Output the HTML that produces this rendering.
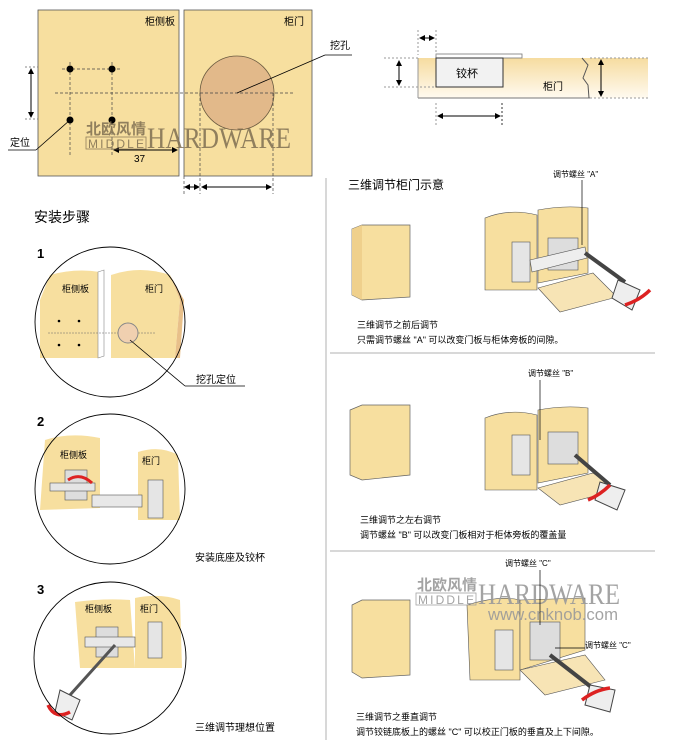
<!DOCTYPE html>
<html><head><meta charset="utf-8"><style>
body{margin:0;background:#fff;}
svg{display:block;font-family:"Liberation Sans","Noto Sans CJK SC",sans-serif;}
</style></head><body>
<svg width="680" height="751" viewBox="0 0 680 751" xmlns="http://www.w3.org/2000/svg">
<defs>
<linearGradient id="dg" x1="0" y1="0" x2="0" y2="1"><stop offset="0" stop-color="#f6dca0"/><stop offset="1" stop-color="#fffaf0"/></linearGradient>
<marker id="a" markerWidth="6" markerHeight="6" refX="5" refY="3" orient="auto"><path d="M0,0L6,3L0,6z" fill="#000"/></marker>
<marker id="b" markerWidth="6" markerHeight="6" refX="1" refY="3" orient="auto"><path d="M6,0L0,3L6,6z" fill="#000"/></marker>
</defs>
<!-- top-left panels -->
<rect x="38" y="10" width="141" height="166" fill="#f7df9f" stroke="#555" stroke-width="0.8"/>
<rect x="184" y="10" width="128" height="166" fill="#f7df9f" stroke="#555" stroke-width="0.8"/>
<text x="145" y="25" font-size="10">柜侧板</text>
<text x="284" y="25" font-size="10">柜门</text>
<circle cx="237" cy="93" r="37" fill="#e2b98a" stroke="#6a5a40" stroke-width="0.8"/>
<g stroke="#444" stroke-dasharray="3,2" stroke-width="0.7" fill="none">
<line x1="55" y1="93" x2="295" y2="93"/>
<line x1="70" y1="62" x2="70" y2="155"/><line x1="112" y1="62" x2="112" y2="155"/>
<line x1="62" y1="69" x2="120" y2="69"/>
<line x1="200" y1="93" x2="200" y2="194"/><line x1="273" y1="93" x2="273" y2="194"/>
<line x1="184" y1="176" x2="184" y2="194"/>
</g>
<g fill="#000"><circle cx="70" cy="69" r="3.5"/><circle cx="112" cy="69" r="3.5"/><circle cx="70" cy="120" r="3.5"/><circle cx="112" cy="120" r="3.5"/></g>
<line x1="31" y1="69" x2="31" y2="117" stroke="#000" marker-end="url(#a)" marker-start="url(#b)"/>
<line x1="25" y1="67" x2="38" y2="67" stroke="#888" stroke-dasharray="2,2"/><line x1="25" y1="119" x2="38" y2="119" stroke="#888" stroke-dasharray="2,2"/>
<line x1="70" y1="120" x2="36" y2="150" stroke="#000" stroke-width="0.8"/><line x1="8" y1="150" x2="36" y2="150" stroke="#000" stroke-width="0.8"/>
<text x="10" y="146" font-size="10">定位</text>
<line x1="114" y1="150" x2="177" y2="150" stroke="#000" marker-end="url(#a)" marker-start="url(#b)"/>
<text x="134" y="162" font-size="10">37</text>
<line x1="185" y1="187" x2="199" y2="187" stroke="#000" marker-end="url(#a)" marker-start="url(#b)"/>
<line x1="202" y1="187" x2="271" y2="187" stroke="#000" marker-end="url(#a)" marker-start="url(#b)"/>
<line x1="237" y1="93" x2="325" y2="55" stroke="#000" stroke-width="0.8"/><line x1="325" y1="55" x2="352" y2="55" stroke="#000" stroke-width="0.8"/>
<text x="330" y="49" font-size="10">挖孔</text>
<g fill="#7f6f52" opacity="0.85">
<text x="86" y="134" font-size="15" font-weight="bold" textLength="60">北欧风情</text>
<rect x="86" y="137" width="60" height="12" fill="none" stroke="#7f6f52" stroke-width="0.8"/>
<text x="88" y="148" font-size="12" textLength="56">MIDDLE</text>
<text x="147" y="148" font-size="30" font-family="Liberation Serif,serif" textLength="144" lengthAdjust="spacingAndGlyphs">HARDWARE</text>
</g>
<!-- top-right section -->
<rect x="418" y="58" width="230" height="40" fill="url(#dg)"/>
<line x1="418" y1="98" x2="590" y2="98" stroke="#777"/>
<line x1="418" y1="58" x2="418" y2="98" stroke="#999"/>
<rect x="436" y="54" width="86" height="4" fill="#fff" stroke="#777" stroke-width="0.8"/>
<rect x="436" y="58" width="67" height="29" fill="#f2f2f2" stroke="#333"/>
<text x="456" y="77" font-size="11">铰杯</text>
<text x="543" y="90" font-size="10">柜门</text>
<path d="M582,58 L588,65 L583,78 L588,85 L589,98" fill="none" stroke="#555"/>
<line x1="590" y1="58" x2="648" y2="58" stroke="#999" stroke-dasharray="2,2"/><line x1="590" y1="98" x2="648" y2="98" stroke="#999" stroke-dasharray="2,2"/>
<line x1="384" y1="58" x2="418" y2="58" stroke="#999" stroke-dasharray="2,2"/><line x1="384" y1="87" x2="436" y2="87" stroke="#999" stroke-dasharray="2,2"/>
<line x1="399" y1="61" x2="399" y2="85" stroke="#000" marker-end="url(#a)" marker-start="url(#b)"/>
<line x1="601" y1="60" x2="601" y2="96" stroke="#000" marker-end="url(#a)" marker-start="url(#b)"/>
<line x1="418" y1="30" x2="418" y2="55" stroke="#999" stroke-dasharray="2,2"/><line x1="436" y1="30" x2="436" y2="55" stroke="#999" stroke-dasharray="2,2"/>
<line x1="420" y1="38" x2="434" y2="38" stroke="#000" marker-end="url(#a)" marker-start="url(#b)"/>
<line x1="436" y1="103" x2="436" y2="125" stroke="#999" stroke-dasharray="2,2"/><line x1="502" y1="103" x2="502" y2="125" stroke="#333" stroke-dasharray="2,2"/>
<line x1="438" y1="116" x2="500" y2="116" stroke="#000" marker-end="url(#a)" marker-start="url(#b)"/>
<!-- separators -->
<line x1="326" y1="178" x2="326" y2="740" stroke="#ccc" stroke-width="1.5"/>
<line x1="330" y1="353" x2="655" y2="353" stroke="#ccc" stroke-width="1.5"/>
<line x1="330" y1="551" x2="655" y2="551" stroke="#ccc" stroke-width="1.5"/>
<!-- left steps -->
<text x="34" y="222" font-size="14">安装步骤</text>
<text x="37" y="258" font-size="13" font-weight="bold">1</text>
<text x="37" y="426" font-size="13" font-weight="bold">2</text>
<text x="37" y="594" font-size="13" font-weight="bold">3</text>
<g>
<path d="M50,275 Q75,268 100,272 L100,358 L40,358 L40,300 Z" fill="#f7df9f"/>
<path d="M98,272 L104,270 L104,356 L98,358Z" fill="#fff" stroke="#888" stroke-width="0.6"/>
<path d="M111,275 Q140,265 170,275 L180,300 L175,358 L111,358Z" fill="#f7df9f"/>
<path d="M170,275 L180,300 L175,358 L180,358 L184,300Z" fill="#e8c08a"/>
<text x="62" y="292" font-size="9">柜侧板</text><text x="145" y="292" font-size="9">柜门</text>
<g fill="#000"><circle cx="59" cy="321" r="1.3"/><circle cx="79" cy="321" r="1.3"/><circle cx="59" cy="345" r="1.3"/><circle cx="79" cy="345" r="1.3"/></g>
<line x1="48" y1="333" x2="155" y2="333" stroke="#666" stroke-width="0.5" stroke-dasharray="2,1"/>
<circle cx="128" cy="333" r="10" fill="#f0d0b0" stroke="#888"/>
<line x1="130" y1="340" x2="185" y2="386" stroke="#000" stroke-width="0.8"/><line x1="185" y1="386" x2="245" y2="386" stroke="#000" stroke-width="0.8"/>
<text x="196" y="383" font-size="10">挖孔定位</text>
<circle cx="110" cy="322" r="75" fill="none" stroke="#000" stroke-width="0.9"/>
</g>
<g>
<path d="M45,440 Q70,432 100,438 L100,508 L40,510 Z" fill="#f7df9f"/>
<path d="M138,452 Q160,445 178,455 L180,520 L138,520Z" fill="#f7df9f"/>
<text x="60" y="458" font-size="9">柜侧板</text><text x="142" y="464" font-size="9">柜门</text>
<rect x="65" y="470" width="22" height="30" fill="#ddd" stroke="#555" stroke-width="0.6"/>
<rect x="50" y="483" width="45" height="8" fill="#e5e5e5" stroke="#555" stroke-width="0.6"/>
<rect x="92" y="495" width="50" height="12" fill="#e8e8e8" stroke="#555" stroke-width="0.6"/>
<rect x="148" y="480" width="15" height="38" fill="#e5e5e5" stroke="#555" stroke-width="0.6"/>
<path d="M68,480 Q80,472 92,483" fill="none" stroke="#d22" stroke-width="3"/>
<text x="195" y="561" font-size="10">安装底座及铰杯</text>
<circle cx="110" cy="489" r="75" fill="none" stroke="#000" stroke-width="0.9"/>
</g>
<g>
<path d="M75,602 Q105,598 130,600 L135,668 L80,668 Z" fill="#f7df9f"/>
<path d="M135,598 Q160,593 180,600 L182,668 L135,668Z" fill="#f7df9f"/>
<text x="85" y="612" font-size="9">柜侧板</text><text x="140" y="612" font-size="9">柜门</text>
<rect x="96" y="627" width="22" height="30" fill="#ddd" stroke="#555" stroke-width="0.6"/>
<rect x="85" y="637" width="50" height="10" fill="#e8e8e8" stroke="#555" stroke-width="0.6"/>
<rect x="148" y="622" width="14" height="36" fill="#e5e5e5" stroke="#555" stroke-width="0.6"/>
<line x1="115" y1="645" x2="70" y2="695" stroke="#555" stroke-width="3"/>
<path d="M60,690 L80,700 L72,720 L55,712Z" fill="#eee" stroke="#444"/>
<path d="M48,705 Q55,720 70,712" fill="none" stroke="#d22" stroke-width="3.5"/>
<text x="195" y="731" font-size="10">三维调节理想位置</text>
<circle cx="110" cy="658" r="76" fill="none" stroke="#000" stroke-width="0.9"/>
</g>
<!-- right scenes -->
<text x="348" y="189" font-size="12">三维调节柜门示意</text>
<g>
<path d="M352,229 L362,225 L410,225 L410,297 L362,300 L352,295Z" fill="#f7df9f" stroke="#666" stroke-width="0.7"/>
<path d="M352,229 L362,225 L362,300 L352,295Z" fill="#efd08c"/>
<path d="M485,218 Q510,208 537,215 L537,290 L485,290Z" fill="#f7df9f" stroke="#555" stroke-width="0.6"/>
<path d="M538,210 Q565,205 588,208 L588,273 L538,283Z" fill="#f7df9f" stroke="#555" stroke-width="0.6"/>
<path d="M538,288 L560,312 L617,297 L593,273Z" fill="#f7e4b5" stroke="#555" stroke-width="0.6"/>
<rect x="512" y="242" width="18" height="40" fill="#e5e5e5" stroke="#555" stroke-width="0.6"/>
<rect x="548" y="238" width="30" height="32" fill="#ddd" stroke="#555" stroke-width="0.6"/>
<path d="M530,260 L585,247 L587,258 L532,272Z" fill="#eee" stroke="#555" stroke-width="0.6"/>
<line x1="585" y1="253" x2="625" y2="282" stroke="#444" stroke-width="4"/>
<path d="M618,280 L640,290 L632,310 L612,298Z" fill="#eee" stroke="#444"/>
<path d="M625,305 Q640,300 650,290" fill="none" stroke="#d22" stroke-width="3.5"/>
<line x1="582" y1="180" x2="582" y2="245" stroke="#000" stroke-width="0.7"/>
<text x="553" y="177" font-size="8">调节螺丝 "A"</text>
<text x="357" y="328" font-size="9">三维调节之前后调节</text>
<text x="357" y="343" font-size="9">只需调节螺丝 "A" 可以改变门板与柜体旁板的间隙。</text>
</g>
<g>
<path d="M350,410 L362,405 L410,405 L410,475 L362,480 L350,475Z" fill="#f7df9f" stroke="#666" stroke-width="0.7"/>
<path d="M485,418 Q510,408 537,415 L537,490 L485,490Z" fill="#f7df9f" stroke="#555" stroke-width="0.6"/>
<path d="M538,410 Q565,405 588,408 L588,473 L538,483Z" fill="#f7df9f" stroke="#555" stroke-width="0.6"/>
<path d="M538,488 L560,505 L617,490 L593,473Z" fill="#f7e4b5" stroke="#555" stroke-width="0.6"/>
<rect x="512" y="435" width="18" height="40" fill="#e5e5e5" stroke="#555" stroke-width="0.6"/>
<rect x="548" y="432" width="30" height="32" fill="#ddd" stroke="#555" stroke-width="0.6"/>
<line x1="575" y1="455" x2="610" y2="485" stroke="#444" stroke-width="4"/>
<path d="M600,482 L625,490 L617,510 L595,500Z" fill="#eee" stroke="#444"/>
<path d="M588,500 Q600,495 610,485" fill="none" stroke="#d22" stroke-width="3.5"/>
<line x1="540" y1="380" x2="540" y2="440" stroke="#000" stroke-width="0.7"/>
<text x="528" y="376" font-size="8">调节螺丝 "B"</text>
<text x="360" y="523" font-size="9">三维调节之左右调节</text>
<text x="360" y="538" font-size="9">调节螺丝 "B" 可以改变门板相对于柜体旁板的覆盖量</text>
</g>
<g>
<path d="M352,605 L362,600 L410,600 L410,675 L362,678 L352,672Z" fill="#f7df9f" stroke="#666" stroke-width="0.7"/>
<path d="M467,605 Q500,595 520,600 L520,680 L470,680Z" fill="#f7df9f" stroke="#555" stroke-width="0.6"/>
<path d="M520,600 L585,598 L585,650 L520,670Z" fill="#f7df9f" stroke="#555" stroke-width="0.6"/>
<g fill="#9a9a9a" opacity="0.9">
<text x="417" y="590" font-size="15" font-weight="bold" textLength="60">北欧风情</text>
<rect x="416" y="593" width="60" height="12" fill="none" stroke="#9a9a9a" stroke-width="0.8"/>
<text x="418" y="604" font-size="12" textLength="56">MIDDLE</text>
<text x="478" y="604" font-size="30" font-family="Liberation Serif,serif" textLength="142" lengthAdjust="spacingAndGlyphs">HARDWARE</text>
<text x="488" y="620" font-size="17" textLength="130" lengthAdjust="spacingAndGlyphs">www.cnknob.com</text>
</g>
<path d="M520,670 L545,695 L605,680 L585,655Z" fill="#f7e4b5" stroke="#555" stroke-width="0.6"/>
<rect x="495" y="630" width="18" height="40" fill="#e5e5e5" stroke="#555" stroke-width="0.6"/>
<rect x="530" y="622" width="30" height="38" fill="#ddd" stroke="#555" stroke-width="0.6"/>
<line x1="550" y1="655" x2="595" y2="690" stroke="#444" stroke-width="4"/>
<path d="M590,685 L615,690 L610,712 L585,705Z" fill="#eee" stroke="#444"/>
<path d="M582,700 Q595,690 610,688" fill="none" stroke="#d22" stroke-width="3.5"/>
<line x1="540" y1="570" x2="540" y2="625" stroke="#000" stroke-width="0.7"/>
<line x1="555" y1="648" x2="585" y2="648" stroke="#000" stroke-width="0.7"/>
<text x="505" y="566" font-size="8">调节螺丝 "C"</text>
<text x="585" y="648" font-size="8">调节螺丝 "C"</text>
<text x="356" y="720" font-size="9">三维调节之垂直调节</text>
<text x="356" y="735" font-size="9">调节铰链底板上的螺丝 "C" 可以校正门板的垂直及上下间隙。</text>
</g>
</svg>
</body></html>
